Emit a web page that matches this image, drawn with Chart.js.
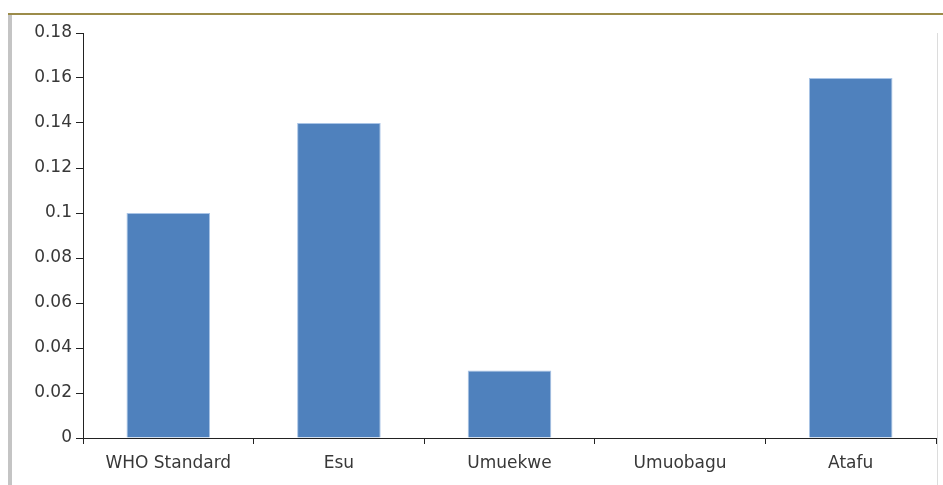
<!DOCTYPE html>
<html>
<head>
<meta charset="utf-8">
<script src="https://cdn.jsdelivr.net/npm/chart.js@4"></script>
<style>
html,body{margin:0;padding:0;background:#fff;}
#wrap{position:relative;width:943px;height:485px;}
</style>
</head>
<body>
<div id="wrap"><canvas id="c" width="943" height="485"></canvas></div>
<script>
const categories = ["WHO Standard", "Esu", "Umuekwe", "Umuobagu", "Atafu"];
const values = [0.10, 0.14, 0.03, 0.0, 0.16];
const yTicks = [0, 0.02, 0.04, 0.06, 0.08, 0.1, 0.12, 0.14, 0.16, 0.18];

const framePlugin = {
  id: 'frame',
  beforeDraw(chart) {
    const ctx = chart.ctx;
    ctx.save();
    ctx.fillStyle = '#fff';
    ctx.fillRect(0, 0, chart.width, chart.height);
    ctx.fillStyle = '#9c8c4a';
    ctx.fillRect(8, 13, 935, 2);
    ctx.fillStyle = '#c4c4c4';
    ctx.fillRect(8, 15, 4, 470);
    ctx.fillStyle = '#dcdcdc';
    ctx.fillRect(937, 33, 1, 452);
    ctx.restore();
  }
};

new Chart(document.getElementById('c'), {
  type: 'bar',
  data: {
    labels: categories,
    datasets: [{
      data: values,
      backgroundColor: '#4f81bd',
      borderColor: '#a9c4e6',
      borderWidth: 1,
      categoryPercentage: 1,
      barPercentage: 0.49
    }]
  },
  options: {
    responsive: false,
    animation: false,
    devicePixelRatio: 1,
    layout: { padding: { top: 33, right: 7, left: 0, bottom: 0 } },
    plugins: { legend: { display: false }, tooltip: { enabled: false } },
    scales: {
      x: {
        offset: true,
        grid: { display: true, drawOnChartArea: false, offset: true, color: '#222', tickLength: 6, lineWidth: 1 },
        border: { display: true, color: '#222', width: 1 },
        ticks: { color: '#383838', font: { family: 'DejaVu Sans', size: 17 }, padding: 9, maxRotation: 0, autoSkip: false },
        afterFit(s) { s.height = 47; }
      },
      y: {
        min: 0, max: 0.18,
        afterBuildTicks(s) { s.ticks = yTicks.map(v => ({ value: v })); },
        grid: { display: true, drawOnChartArea: false, color: '#222', tickLength: 7 },
        border: { display: true, color: '#222', width: 1 },
        ticks: {
          color: '#383838', font: { family: 'DejaVu Sans', size: 17 }, padding: 4,
          callback: v => String(Math.round(v * 100) / 100)
        },
        afterFit(s) { s.width = 83; }
      }
    }
  },
  plugins: [framePlugin]
});
</script>
</body>
</html>
